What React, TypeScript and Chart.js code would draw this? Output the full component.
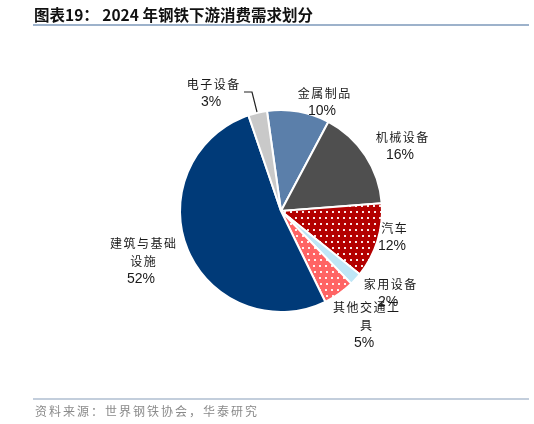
import React, { useEffect, useRef } from "react";
import { Chart, registerables } from "chart.js";

Chart.register(...registerables);

const titleText = "图表19： 2024 年钢铁下游消费需求划分";
const sourceText = "资料来源：世界钢铁协会，华泰研究";
const categories = ["金属制品", "机械设备", "汽车", "家用设备", "其他交通工具", "建筑与基础设施", "电子设备"];
const shares = [10, 16, 12, 2, 5, 52, 3];
const labelLines = [["金属制品"], ["机械设备"], ["汽车"], ["家用设备"], ["其他交通工", "具"], ["建筑与基础", "设施"], ["电子设备"]];

const baseColors = ["#5B7FAA", "#4F4F4F", "#B30000", "#BFE6F6", "#FF6464", "#003A78", "#C9C9C9"];
const dotted = [false, false, true, false, true, false, false];

function makePattern(bg: string): CanvasPattern | string {
  const c = document.createElement("canvas");
  c.width = 12;
  c.height = 12;
  const x = c.getContext("2d");
  if (!x) return bg;
  x.fillStyle = bg;
  x.fillRect(0, 0, 12, 12);
  x.fillStyle = "rgba(255,255,255,0.9)";
  x.fillRect(1, 1, 2, 2);
  x.fillRect(7, 1, 2, 2);
  x.fillRect(2, 7, 2, 2);
  x.fillRect(8, 7, 2, 2);
  const p = x.createPattern(c, "repeat");
  return p || bg;
}

// label anchor positions (text centre x, first line centre y)
const labelPos: [number, number][] = [
  [324, 93],
  [402, 137],
  [394, 228],
  [390, 284],
  [366, 307],
  [143, 243],
  [213, 84],
];

const cjk = '"Noto Sans CJK SC", "Noto Sans", sans-serif';
const latin = '"Liberation Sans", Arial, sans-serif';

const overlay = {
  id: "overlay",
  afterDraw(chart: any) {
    const ctx = chart.ctx as CanvasRenderingContext2D;
    ctx.save();
    // title
    ctx.fillStyle = "#111";
    ctx.textBaseline = "middle";
    ctx.textAlign = "left";
    ctx.font = `bold 15.5px ${cjk}`;
    ctx.fillText(titleText, 34, 15);
    // title rule
    ctx.strokeStyle = "#9DB2CB";
    ctx.lineWidth = 2;
    ctx.beginPath();
    ctx.moveTo(33, 25);
    ctx.lineTo(529, 25);
    ctx.stroke();
    // footer rule
    ctx.strokeStyle = "#AFBED0";
    ctx.lineWidth = 1.5;
    ctx.beginPath();
    ctx.moveTo(33, 399);
    ctx.lineTo(529, 399);
    ctx.stroke();
    // footer text
    ctx.fillStyle = "#8A8A8A";
    ctx.font = `12px ${cjk}`;
    (ctx as any).letterSpacing = "2px";
    ctx.fillText(sourceText, 35, 411);
    // labels
    ctx.textAlign = "center";
    for (let i = 0; i < categories.length; i++) {
      const [cx, cy] = labelPos[i];
      let y = cy;
      ctx.fillStyle = "#1A1A1A";
      ctx.font = `12px ${cjk}`;
      (ctx as any).letterSpacing = "1.5px";
      for (const line of labelLines[i]) {
        ctx.fillText(line, cx + 0.75, y);
        y += 18.5;
      }
      (ctx as any).letterSpacing = "0px";
      ctx.font = `14px ${latin}`;
      ctx.fillText(`${shares[i]}%`, cx - 2, y - 0.5);
    }
    // leader line for 电子设备
    ctx.strokeStyle = "#222";
    ctx.lineWidth = 1.2;
    ctx.beginPath();
    ctx.moveTo(244, 92);
    ctx.lineTo(252, 92);
    ctx.lineTo(257, 112);
    ctx.stroke();
    ctx.restore();
  },
};

export default function App() {
  const ref = useRef<HTMLCanvasElement | null>(null);
  useEffect(() => {
    document.body.style.margin = "0";
    const canvas = ref.current;
    if (!canvas) return;
    const colors = baseColors.map((c, i) => (dotted[i] ? makePattern(c) : c));
    const chart = new Chart(canvas, {
      type: "pie",
      data: {
        labels: categories,
        datasets: [
          {
            data: shares,
            backgroundColor: colors as any,
            borderColor: "#FFFFFF",
            borderWidth: 2,
          },
        ],
      },
      options: {
        responsive: false,
        animation: false,
        devicePixelRatio: 1,
        rotation: -8,
        layout: { padding: { left: 179, right: 151, top: 109, bottom: 111 } },
        plugins: {
          legend: { display: false },
          tooltip: { enabled: false },
          title: { display: false },
        },
      },
      plugins: [overlay],
    });
    return () => chart.destroy();
  }, []);
  return (
    <div style={{ position: "fixed", left: 0, top: 0, width: 534, height: 424, background: "#fff" }}>
      <canvas ref={ref} width={534} height={424} style={{ width: 534, height: 424 }} />
    </div>
  );
}
